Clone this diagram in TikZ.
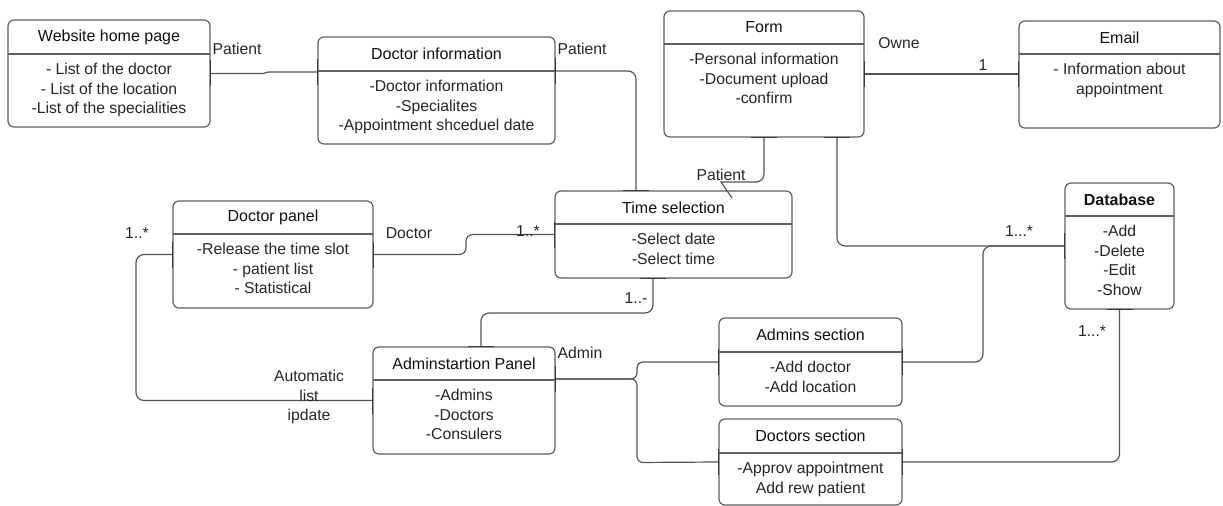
\documentclass[tikz,border=0pt]{standalone}
\usepackage{fontspec}
\setmainfont{Liberation Sans}
\definecolor{boxgray}{HTML}{5F5F5F}
\definecolor{linegray}{HTML}{555555}
\definecolor{stubgray}{HTML}{3A3A3A}
\definecolor{txt}{HTML}{262626}
\definecolor{ttl}{HTML}{111111}
\tikzset{
  umlbox/.style={draw=boxgray, line width=0.9pt, rounded corners=4.5pt, rectangle, inner sep=0pt, fill=white},
  divline/.style={draw=boxgray, line width=0.9pt},
  titletext/.style={text=ttl, font=\fontsize{12}{14.5}\selectfont, inner sep=0pt},
  bodytext/.style={text=txt, font=\fontsize{11.8}{14.6}\selectfont, align=center, inner sep=0pt},
  conn/.style={draw=linegray, line width=0.9pt},
  stub/.style={draw=stubgray, line width=1.2pt},
  lbl/.style={text=txt, font=\fontsize{11.8}{14.6}\selectfont, inner sep=0pt, align=center},
}
% name, x1, y1, x2, y2, ydiv, title, body
\newcommand\umlbox[8]{%
  \node[umlbox, minimum width={(#4-#2)*0.75pt}, minimum height={(#5-#3)*0.75pt}] (#1) at ({(#2+#4)/2},{(#3+#5)/2}) {};
  \draw[divline] (#2,#6) -- (#4,#6);
  \node[titletext] (#1-t) at ({(#2+#4)/2},{(#3+#6)/2}) {#7};
  \node[bodytext, anchor=north] (#1-b) at ({(#2+#4)/2},{#6+9}) {#8};
}
\newcommand\vstub[1]{\draw[stub] ([yshift=9.75pt]#1) -- ([yshift=-9.75pt]#1);}
\newcommand\hstub[1]{\draw[stub] ([xshift=-9.75pt]#1) -- ([xshift=9.75pt]#1);}
\begin{document}
\begin{tikzpicture}[x=0.75pt,y=-0.75pt]
\useasboundingbox (0,0) rectangle (1223,506);
\fill[white] (0,0) rectangle (1223,506);

% boxes
\umlbox{web}{8}{20}{210}{127}{54}{Website home page}{- List of the doctor\\- List of the location\\-List of the specialities}
\umlbox{docinfo}{318}{37}{555}{144}{71}{Doctor information}{-Doctor information\\-Specialites\\-Appointment shceduel date}
\umlbox{form}{664}{11}{864}{137}{44}{Form}{-Personal information\\-Document upload\\-confirm}
\umlbox{email}{1019}{21}{1220}{128}{54}{Email}{- Information about\\appointment}
\umlbox{dpanel}{173}{201}{373}{308}{234}{Doctor panel}{-Release the time slot\\- patient list\\- Statistical}
\umlbox{time}{555}{191}{792}{278}{224}{Time selection}{-Select date\\-Select time}
\umlbox{db}{1065}{183}{1174}{309}{216}{\textbf{Database}}{-Add\\-Delete\\-Edit\\-Show}
\umlbox{adm}{373}{347}{555}{454}{380}{Adminstartion Panel}{-Admins\\-Doctors\\-Consulers}
\umlbox{adms}{719}{318}{902}{406}{352}{Admins section}{-Add doctor\\-Add location}
\umlbox{docs}{719}{419}{902}{505}{453}{Doctors section}{-Approv appointment\\Add rew patient}

% connection points
\coordinate (c1b) at (docinfo.west |- 0,72);
\coordinate (c2a) at (docinfo.east |- 0,71);
\coordinate (c2b) at (time.north -| 636,0);
\coordinate (c4end) at (732,198);
\coordinate (c5a) at (form.south -| 837,0);
\coordinate (c8a) at (adm.east |- 0,379);
\coordinate (c9a) at (adm.north -| 481,0);
\coordinate (c9b) at (time.south -| 653,0);

% connectors
\draw[conn] (web.east) -- (263,73.5) -- (268,72) -- (c1b);
\draw[conn, rounded corners=6pt] (c2a) -- (636,71) -- (c2b);
\draw[conn] (form.east) -- (email.west |- form.east);
\draw[conn] (form.south) [rounded corners=6pt] -- (764,182) [sharp corners] -- (721,182) -- (c4end);
\draw[conn, rounded corners=6pt] (c5a) -- (837,246) -- (db.west);
\draw[conn, rounded corners=6pt] (adms.east) -- (983,362) -- (983,246) -- (db.west);
\draw[conn, rounded corners=6pt] (docs.east) -- (db.south |- docs.east) -- (db.south);
\draw[conn, rounded corners=4.5pt] (c8a) -- (637,379) -- (637,362) -- (adms.west);
\draw[conn, rounded corners=4.5pt] (c8a) -- (637,379) -- (637,462.5) -- (docs.west);
\draw[conn, rounded corners=6pt] (c9a) -- (481,313) -- (653,313) -- (c9b);
\draw[conn, rounded corners=5pt] (dpanel.east) -- (466,254.5) -- (466,234.5) -- (time.west);
\draw[conn, rounded corners=6pt] (dpanel.west) -- (136,254.5) -- (136,400.5) -- (adm.west);

% stubs
\vstub{web.east} \vstub{c1b} \vstub{c2a}
\vstub{form.east} \vstub{email.west}
\hstub{form.south} \hstub{c5a}
\hstub{c2b} \hstub{c9b} \vstub{time.west}
\vstub{dpanel.west} \vstub{dpanel.east}
\vstub{db.west} \hstub{db.south}
\hstub{c9a} \vstub{adm.west} \vstub{c8a}
\vstub{adms.west} \vstub{adms.east}
\vstub{docs.west} \vstub{docs.east}

% labels
\node[lbl] (l1) at (237,49) {Patient};
\node[lbl] (l2) at (582,49) {Patient};
\node[lbl] (l3) at (899,43) {Owne};
\node[lbl] (l4) at (983,65) {1};
\node[lbl] (l5) at (721,175) {Patient};
\node[lbl] (l6) at (409,233) {Doctor};
\node[lbl] (l7) at (528,231) {1..*};
\node[lbl] (l8) at (137,233) {1..*};
\node[lbl] (l9) at (1019,231) {1...*};
\node[lbl] (l10) at (1092,331) {1...*};
\node[lbl] (l11) at (636,298) {1..-};
\node[lbl] (l12) at (580,353) {Admin};
\node[lbl] (l13) at (309,397) {Automatic\\list\\ipdate};
\end{tikzpicture}
\end{document}
